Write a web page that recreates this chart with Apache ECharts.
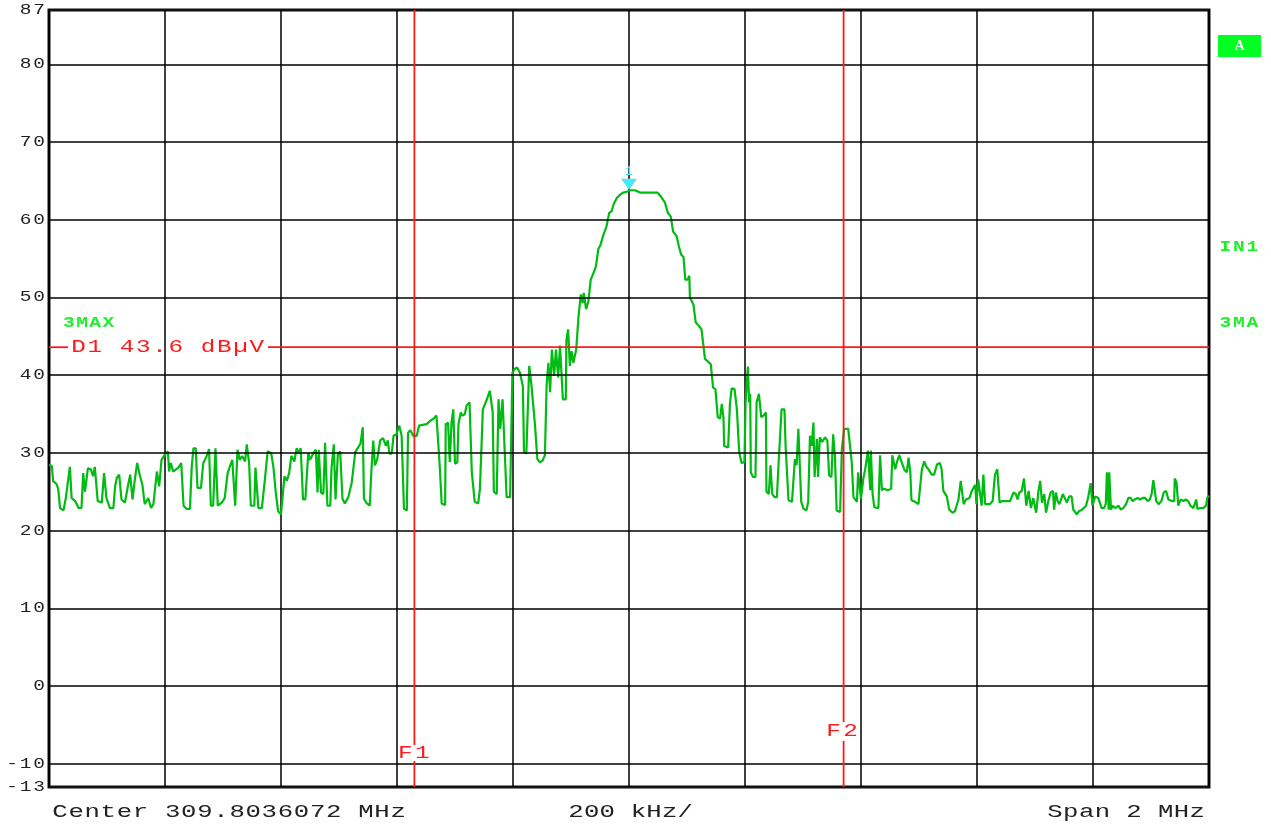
<!DOCTYPE html>
<html style="height: 100%">
<head>
<meta charset="utf-8">
<script src="https://cdn.jsdelivr.net/npm/echarts@6/dist/echarts.min.js"></script>
</head>
<body style="height: 100%; width: 100%; margin: 0; background: #fff">
<div id="main" style="width: 1271px; height: 825px"></div>
<script type="text/javascript">

// frequency offset from center (kHz) and trace level (dBuV)
var freqOffset = [
  -1000,-995,-993,-987,-984,-981,-975,-971,-968,-964,-961,-955,-949,-944,-941,-938,-933,-928,-924,-921,
  -916,-909,-905,-901,-895,-889,-886,-883,-879,-875,-869,-864,-860,-856,-852,-848,-843,-839,-835,-829,
  -824,-820,-814,-810,-806,-800,-795,-793,-790,-786,-777,-772,-768,-763,-757,-754,-751,-747,-744,-741,
  -738,-734,-728,-724,-721,-717,-713,-709,-702,-697,-692,-688,-684,-679,-675,-671,-667,-662,-659,-655,
  -652,-646,-644,-639,-633,-630,-628,-623,-617,-613,-609,-605,-600,-598,-594,-590,-586,-582,-577,-573,
  -569,-566,-562,-558,-553,-550,-544,-540,-537,-535,-531,-527,-524,-520,-515,-513,-509,-506,-502,-498,
  -494,-490,-484,-478,-472,-467,-463,-459,-457,-452,-447,-444,-441,-438,-434,-429,-424,-419,-416,-413,
  -409,-406,-401,-396,-392,-388,-383,-381,-377,-372,-366,-362,-356,-349,-343,-337,-332,-329,-326,-323,
  -317,-316,-312,-309,-306,-303,-300,-296,-294,-290,-287,-283,-280,-275,-271,-266,-260,-257,-252,-245,
  -240,-235,-233,-228,-225,-222,-218,-214,-211,-205,-202,-201,-197,-193,-188,-183,-181,-177,-172,-168,
  -162,-158,-154,-149,-145,-142,-139,-136,-133,-129,-126,-122,-119,-114,-109,-108,-105,-102,-99,-96,
  -91,-87,-83,-80,-78,-74,-70,-66,-62,-57,-53,-49,-44,-39,-34,-30,-26,-21,-16,-10,
  -4,2,10,19,28,36,39,45,49,55,62,67,72,76,82,86,90,94,97,101,
  104,105,111,115,121,125,131,137,141,145,149,153,157,160,163,164,171,174,177,182,
  186,190,194,199,201,205,207,209,210,214,218,220,224,228,232,236,237,241,244,247,
  251,255,258,260,263,268,270,275,281,286,289,292,297,301,306,309,312,315,318,320,
  324,326,329,333,338,342,345,349,352,355,358,364,367,371,378,381,384,387,393,395,
  400,404,407,412,416,417,420,423,430,433,436,440,446,452,454,459,462,466,470,475,
  479,482,485,487,493,499,502,505,509,512,516,522,526,531,536,539,542,548,552,558,
  562,568,572,577,581,587,591,597,599,602,605,608,611,614,618,622,627,631,635,639,
  643,651,657,663,667,670,673,677,681,685,689,693,697,702,706,709,712,716,719,723,
  727,731,733,736,739,742,744,748,751,755,759,763,766,772,776,781,788,792,796,799,
  804,809,815,819,822,824,827,828,831,834,838,844,848,852,857,861,865,868,872,877,
  881,886,890,894,898,901,904,909,913,918,922,926,930,936,940,941,944,947,951,956,
  960,964,968,973,978,980,985,990,995,997,1000
];
var level = [
  28.5,28.3,26.4,26.0,25.3,22.9,22.6,24.2,24.4,28.2,24.2,23.8,22.9,22.9,27.4,25.0,28.0,27.9,27.0,28.2,
  23.8,23.6,27.4,24.2,22.9,22.9,25.7,26.8,27.2,24.0,23.6,25.7,27.2,24.0,26.6,28.7,27.0,25.9,23.4,24.2,
  22.9,23.4,27.6,25.7,29.1,29.8,30.2,27.6,28.7,27.6,28.1,28.7,23.2,22.8,22.8,28.1,30.6,30.6,25.5,25.3,
  25.5,28.7,29.6,30.5,23.2,23.2,30.6,23.2,23.6,24.2,27.4,28.3,29.1,23.2,30.4,29.1,29.6,28.9,31.1,28.7,
  23.2,23.2,28.1,22.9,22.9,22.7,26.4,30.2,30.0,28.1,24.9,22.5,22.1,22.1,27.0,26.4,27.4,29.6,28.9,30.6,
  30.0,30.6,24.0,24.0,30.0,29.1,30.0,30.4,24.9,30.4,24.9,24.7,31.3,23.2,23.2,27.9,31.1,24.0,29.8,30.2,
  24.1,23.5,24.3,26.2,30.1,30.7,31.2,33.3,24.1,23.5,23.2,27.9,31.6,28.4,29.2,31.6,31.9,30.9,31.6,29.9,
  29.9,32.2,32.4,33.5,32.2,22.8,22.6,32.6,32.9,32.2,32.2,33.5,33.6,33.7,34.1,34.4,34.8,31.4,27.9,23.5,
  23.3,33.7,33.9,28.8,33.9,35.6,28.6,28.8,33.7,35.2,34.8,35.0,36.1,36.5,27.5,23.7,23.5,25.4,35.6,36.9,
  38.0,35.2,25.0,24.7,36.9,33.1,36.9,29.7,24.3,24.3,24.5,40.3,40.8,41.0,40.3,38.6,30.1,29.9,41.2,38.6,
  33.5,29.2,28.8,29.0,29.7,38.8,41.6,37.8,43.3,39.9,43.3,39.7,43.8,36.9,36.9,44.4,45.9,41.2,43.1,41.6,
  43.3,47.6,50.4,49.3,50.6,48.5,49.5,52.3,53.0,54.0,56.2,56.8,58.1,59.1,60.9,61.1,62.1,62.8,63.2,63.5,
  63.6,63.8,63.8,63.5,63.5,63.5,63.3,63.5,63.5,63.0,62.2,60.9,60.4,58.5,57.9,56.6,55.5,55.2,52.3,52.3,
  52.8,50.0,49.1,46.8,46.3,45.9,42.1,41.7,41.4,38.4,38.2,34.6,34.4,36.3,34.4,30.9,30.7,36.3,38.3,38.2,
  35.6,30.1,28.7,28.8,36.5,41.1,36.5,37.6,27.5,26.9,26.9,36.5,37.6,34.6,34.8,35.2,25.0,24.7,28.4,24.7,
  24.3,24.3,28.8,28.8,35.6,35.6,30.9,23.9,23.7,29.2,28.4,33.1,23.7,22.8,22.6,23.7,32.2,30.9,33.9,26.9,
  31.8,26.9,32.0,31.4,32.0,31.6,27.1,26.9,32.4,29.7,22.6,22.4,30.5,33.1,33.1,33.1,28.8,24.3,23.7,27.5,
  24.1,26.7,27.8,30.3,25.2,30.3,24.7,23.0,22.9,29.7,25.2,25.4,25.2,25.4,29.7,27.9,28.8,29.7,28.8,27.8,
  27.5,29.4,27.5,23.9,23.7,23.4,23.6,27.9,28.9,28.3,27.9,27.2,27.2,28.5,28.7,27.9,25.1,24.4,22.7,22.3,
  22.5,24.0,26.4,23.4,24.0,24.2,25.1,25.9,23.4,26.6,26.7,23.2,27.2,23.4,23.4,23.4,23.8,27.2,27.9,23.6,
  23.8,23.8,23.8,24.9,24.7,24.0,24.9,25.1,26.7,23.2,25.1,22.9,24.2,22.3,25.1,26.4,23.6,24.7,22.3,23.8,
  24.9,25.1,22.7,24.9,23.8,23.4,23.8,24.7,24.9,23.6,24.4,24.4,22.7,22.1,22.5,22.7,23.2,24.4,26.1,23.2,
  24.4,24.2,22.9,22.9,23.4,27.5,22.7,27.5,22.7,23.2,22.9,23.2,22.7,22.9,23.4,24.2,24.2,23.8,24.0,24.2,
  24.0,24.2,24.2,23.8,24.0,24.7,26.5,23.8,23.4,23.8,24.9,25.1,24.0,23.8,23.8,26.7,26.2,23.2,24.0,23.8,
  24.0,23.8,23.2,22.9,24.0,22.8,22.9,22.9,23.2,24.2,24.5
];

var gridLevels = [-10, 0, 10, 20, 30, 40, 50, 60, 70, 80];
var yTickLabels = [87, 80, 70, 60, 50, 40, 30, 20, 10, 0, -10, -13];
var displayLine = 43.6;
var markerF1 = -370;
var markerF2 = 370;
var peakMarker = [0, 63.8];

var chart = echarts.init(document.getElementById('main'));

var option = {
  animation: false,
  backgroundColor: '#fff',
  grid: { left: 49, right: 62, top: 10, bottom: 38, show: true, borderColor: '#111', borderWidth: 3, outerBoundsMode: 'none' },
  xAxis: {
    type: 'value', min: -1000, max: 1000, interval: 200,
    axisLine: { show: false }, axisTick: { show: false }, axisLabel: { show: false },
    splitLine: { show: true, lineStyle: { color: '#000', width: 1.5 } }
  },
  yAxis: {
    type: 'value', min: -13, max: 87,
    axisLine: { show: false }, axisTick: { show: false }, axisLabel: { show: false },
    splitLine: { show: false }
  },
  series: [
    {
      type: 'line', data: [], z: 1, silent: true,
      markLine: {
        silent: true, symbol: 'none', animation: false,
        label: { show: false },
        lineStyle: { color: '#000', width: 1.5, type: 'solid' },
        data: gridLevels.map(function (v) { return { yAxis: v }; })
      }
    },
    {
      type: 'line', z: 3,
      data: freqOffset.map(function (f, i) { return [f, level[i]]; }),
      showSymbol: false,
      lineStyle: { color: '#00bb11', width: 2.2 },
      markPoint: {
        silent: true,
        data: [{
          coord: peakMarker, symbol: 'triangle', symbolRotate: 180, symbolSize: [16, 11], symbolOffset: [0, -6],
          itemStyle: { color: '#48e8f8' },
          label: { show: true, position: 'top', distance: 1, formatter: '1', color: '#48e8f8', fontSize: 13, fontFamily: 'Liberation Mono' }
        }]
      }
    }
  ]
};
chart.setOption(option);

function X(v) { return chart.convertToPixel({ xAxisIndex: 0 }, v); }
function Y(v) { return chart.convertToPixel({ yAxisIndex: 0 }, v); }

// monospaced text with wide character pitch, like the analyzer screen font
function spaced(str, x0, y, pitch, font, color, sx) {
  var out = [];
  for (var i = 0; i < str.length; i++) {
    if (str[i] === ' ') continue;
    out.push({
      type: 'text', z: 100, silent: true,
      x: x0 + i * pitch, y: y, scaleX: sx || 1.3,
      style: { text: str[i], font: font, fill: color, align: 'center', verticalAlign: 'middle' }
    });
  }
  return out;
}

var g = [];
var labelFont = '15px "Liberation Mono"';
yTickLabels.forEach(function (v) {
  var s = String(v);
  g = g.concat(spaced(s, 39 - (s.length - 1) * 13.5, Y(v), 13.5, labelFont, '#222', 1.3));
});

var bottomFont = '19px "Liberation Mono"';
g = g.concat(spaced('Center 309.8036072 MHz', 60, 812, 16.1, bottomFont, '#222', 1.35));
g = g.concat(spaced('200 kHz/', 576, 812, 15.6, bottomFont, '#222', 1.35));
g = g.concat(spaced('Span 2 MHz', 1055, 812, 15.8, bottomFont, '#222', 1.35));

var red = '#ff1a1a';
var yTop = Y(87), yBottom = Y(-13), yD = Y(displayLine);
var xf1 = X(markerF1), xf2 = X(markerF2);
function seg(x1, y1, x2, y2) {
  return { type: 'line', z: 50, silent: true, shape: { x1: x1, y1: y1, x2: x2, y2: y2 }, style: { stroke: red, lineWidth: 1.8 } };
}
g.push(seg(49, yD, 68, yD), seg(268, yD, 1209, yD));
g.push(seg(xf1, yTop, xf1, 745), seg(xf1, 761, xf1, yBottom));
g.push(seg(xf2, yTop, xf2, 722), seg(xf2, 741, xf2, yBottom));

var redFont = '18px "Liberation Mono"';
g = g.concat(spaced('D1 43.6 dB\u00b5V', 78.5, yD, 16.2, redFont, red, 1.35));
g = g.concat(spaced('F1', xf1 - 9, 753, 17, redFont, red, 1.35));
g = g.concat(spaced('F2', xf2 - 10, 731.5, 17, redFont, red, 1.35));

var lime = '#1cf02c';
var tagFont = 'bold 14px "Liberation Mono"';
g = g.concat(spaced('3MAX', 69, 323, 13.1, tagFont, lime, 1.4));
g = g.concat(spaced('IN1', 1225.5, 247, 13.5, tagFont, lime, 1.4));
g = g.concat(spaced('3MA', 1225.5, 323, 13.5, tagFont, lime, 1.4));

g.push({ type: 'rect', z: 90, silent: true, shape: { x: 1218, y: 35, width: 43, height: 22 }, style: { fill: '#00ff22' } });
g.push({ type: 'text', z: 100, silent: true, x: 1239.5, y: 46,
  style: { text: 'A', font: 'bold 14px "Liberation Serif"', fill: '#fff', align: 'center', verticalAlign: 'middle' } });

chart.setOption({ graphic: g });
</script>
</body>
</html>
